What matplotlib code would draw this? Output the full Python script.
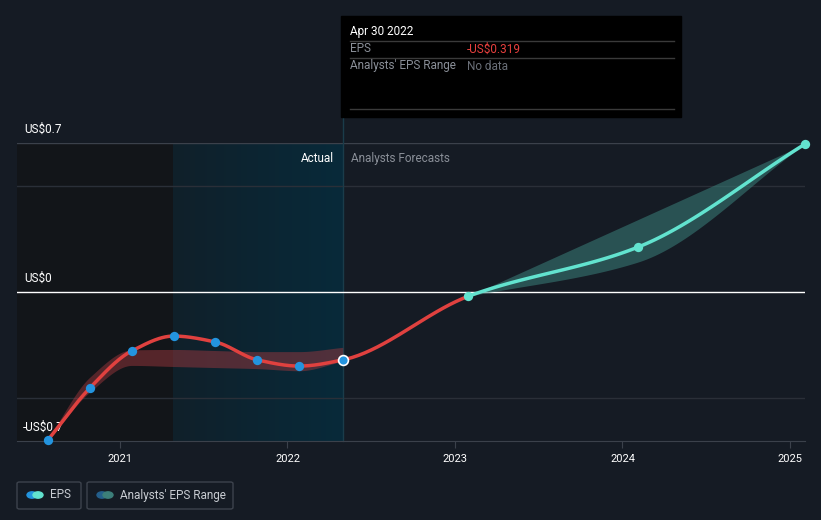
import numpy as np
import matplotlib
matplotlib.use("Agg")
import matplotlib.pyplot as plt
from matplotlib.patches import Rectangle, FancyBboxPatch, Circle
from matplotlib.colors import LinearSegmentedColormap

plt.rcParams['font.family'] = ['Roboto', 'DejaVu Sans']

# EPS (actual, then forecast) - decimal years
eps_x = [2020.57, 2020.82, 2021.07, 2021.32, 2021.57, 2021.82, 2022.07, 2022.33]
eps_y = [-0.695, -0.451, -0.277, -0.207, -0.235, -0.319, -0.348, -0.319]
fc_x = [2023.08, 2024.09, 2025.09]
fc_y = [-0.02, 0.21, 0.695]

# analysts' range for the past estimates
band_x = [2020.57, 2020.82, 2021.07, 2021.32, 2021.57, 2021.82, 2022.07, 2022.33]
band_lo = [-0.70, -0.47, -0.345, -0.35, -0.355, -0.36, -0.37, -0.325]
band_hi = [-0.69, -0.40, -0.272, -0.27, -0.275, -0.28, -0.28, -0.26]
# forecast range
fband_x = [2023.08, 2024.09, 2025.09]
fband_lo = [-0.02, 0.14, 0.695]
fband_hi = [-0.02, 0.35, 0.695]

yticks = [-0.7, 0, 0.7]
ylabels = ['-US$0.7', 'US$0', 'US$0.7']
xticks = [2021, 2022, 2023, 2024, 2025]

BG = '#151b24'
RED = '#e0413f'
BLUE = '#2394df'
TEAL = '#62e3cf'


def smooth(x, y, n=40):
    # monotone cubic (Fritsch-Carlson) for drawing
    x = np.asarray(x, float); y = np.asarray(y, float)
    h = np.diff(x); d = np.diff(y) / h
    m = np.zeros_like(y)
    m[0], m[-1] = d[0], d[-1]
    for i in range(1, len(x) - 1):
        if d[i - 1] * d[i] <= 0:
            m[i] = 0
        else:
            w1 = 2 * h[i] + h[i - 1]; w2 = h[i] + 2 * h[i - 1]
            m[i] = (w1 + w2) / (w1 / d[i - 1] + w2 / d[i])
    xs, ys = [], []
    for i in range(len(x) - 1):
        t = np.linspace(0, 1, n, endpoint=(i == len(x) - 2))
        h00 = 2*t**3 - 3*t**2 + 1; h10 = t**3 - 2*t**2 + t
        h01 = -2*t**3 + 3*t**2; h11 = t**3 - t**2
        xs.append(x[i] + t * h[i])
        ys.append(h00*y[i] + h10*h[i]*m[i] + h01*y[i+1] + h11*h[i]*m[i+1])
    return np.concatenate(xs), np.concatenate(ys)


fig = plt.figure(figsize=(8.21, 5.2), dpi=100, facecolor=BG)
ax = fig.add_axes([17/821, 79/520, 788/821, 298/520])
ax.set_facecolor(BG)
ax.set_xlim(2020.385, 2025.09)
ax.set_ylim(-0.7, 0.7)

split = eps_x[-1]
past_start = 2021.316
ax.axvspan(ax.get_xlim()[0], past_start, color='#121519', zorder=0, lw=0)
grad = np.linspace(0, 1, 256).reshape(1, -1)
cm = LinearSegmentedColormap.from_list('hl', ['#10202a', '#082a3a'])
ax.imshow(grad, cmap=cm, aspect='auto', extent=[past_start, split, -0.7, 0.7], zorder=0)

for v, c in [(0.5, '#2a2f38'), (-0.5, '#2a2f38'), (0.7, '#3b414b')]:
    ax.axhline(v, color=c, lw=1, zorder=1)
ax.axhline(0, color='white', lw=1, zorder=2)
ax.axvline(split, ymin=0, ymax=1.087, color='#1a3c4a', lw=1, zorder=1, clip_on=False)

# bands
bx, blo = smooth(band_x, band_lo)
_, bhi = smooth(band_x, band_hi)
ax.fill_between(bx, blo, bhi, color='#a8393f', alpha=0.45, lw=0, zorder=3)
fx, flo = smooth(fband_x, fband_lo)
fhi = np.interp(fx, [fband_x[0], fband_x[-1]], [fband_hi[0], fband_hi[-1]])
ax.fill_between(fx, flo, fhi, color='#3a807a', alpha=0.55, lw=0, zorder=3)

# EPS line
all_x = eps_x + fc_x
all_y = eps_y + fc_y
lx, ly = smooth(all_x, all_y)
k = lx <= fc_x[0]
ax.plot(lx[k], ly[k], color=RED, lw=2.5, zorder=4, solid_capstyle='round')
ax.plot(lx[~k], ly[~k], color=TEAL, lw=2.5, zorder=4, solid_capstyle='round')

ax.scatter(eps_x[:-1], eps_y[:-1], s=45, color=BLUE, zorder=5, clip_on=False, lw=0)
ax.scatter(eps_x[-1:], eps_y[-1:], s=50, color=BLUE, edgecolor='white', lw=1.2, zorder=5)
ax.scatter(fc_x, fc_y, s=45, color=TEAL, zorder=5, clip_on=False, lw=0)

for s in ax.spines.values():
    s.set_visible(False)
ax.spines['bottom'].set_visible(True)
ax.spines['bottom'].set_color('#3b414b')
ax.set_yticks([])
ax.set_xticks(xticks)
ax.set_xticklabels([str(t) for t in xticks], color='white', fontsize=8)
ax.tick_params(axis='x', colors='#3b414b', length=5, labelcolor='white', pad=4)

for v, lab in zip(yticks, ylabels):
    ax.annotate(lab, (0, v), xycoords=('axes fraction', 'data'),
                xytext=(5 if v > -0.7 else 4, 5), textcoords='offset points',
                color='white', fontsize=8.5, va='bottom', ha='left')

ax.annotate('Actual', (split, 0.7), xytext=(-6, -11), textcoords='offset points',
            color='white', fontsize=8.5, ha='right', va='center')
ax.annotate('Analysts Forecasts', (split, 0.7), xytext=(6, -11), textcoords='offset points',
            color='#8a8f98', fontsize=8.5, ha='left', va='center')

# tooltip
W, H = 821, 520
def fx_(p): return p / W
def fy_(p): return 1 - p / H
fig.add_artist(Rectangle((fx_(341), fy_(117)), fx_(681) - fx_(341), fy_(16) - fy_(117),
                         transform=fig.transFigure, color='black', zorder=10))
for yy in [41, 58, 109]:
    fig.add_artist(plt.Line2D([fx_(350), fx_(674)], [fy_(yy), fy_(yy)],
                              transform=fig.transFigure, color='#3a3a3a', lw=1, zorder=11))
fig.text(fx_(350), fy_(31), 'Apr 30 2022', color='white', fontsize=8.5, va='center', zorder=12)
fig.text(fx_(350), fy_(49), 'EPS', color='#8a8f98', fontsize=8.5, va='center', zorder=12)
fig.text(fx_(467), fy_(49), '-US$0.319', color='#e8403e', fontsize=8.5, va='center', zorder=12)
fig.text(fx_(350), fy_(66), "Analysts' EPS Range", color='#8a8f98', fontsize=8.5, va='center', zorder=12)
fig.text(fx_(467), fy_(66), 'No data', color='#6a6f78', fontsize=8.5, va='center', zorder=12)

# legend
for x0, x1, label, c1, c2 in [(17, 81, 'EPS', BLUE, TEAL),
                              (87, 233, "Analysts' EPS Range", '#245f8c', '#3c7f7a')]:
    fig.add_artist(FancyBboxPatch((fx_(x0), fy_(509)), fx_(x1) - fx_(x0), fy_(482) - fy_(509),
                                  boxstyle='round,pad=0,rounding_size=0.003',
                                  transform=fig.transFigure, facecolor='none',
                                  edgecolor='#3d434d', lw=1))
    cy = fy_(495)
    for dx, c in [(0, c1), (6, c2)]:
        fig.add_artist(Circle((fx_(x0 + 15 + dx), cy), 5 / W, transform=fig.transFigure,
                              color=c, zorder=5))
    fig.text(fx_(x0 + 33), cy, label, color='#c8ccd2', fontsize=8.5, va='center')

fig.savefig('out.png', dpi=100, facecolor=BG)
